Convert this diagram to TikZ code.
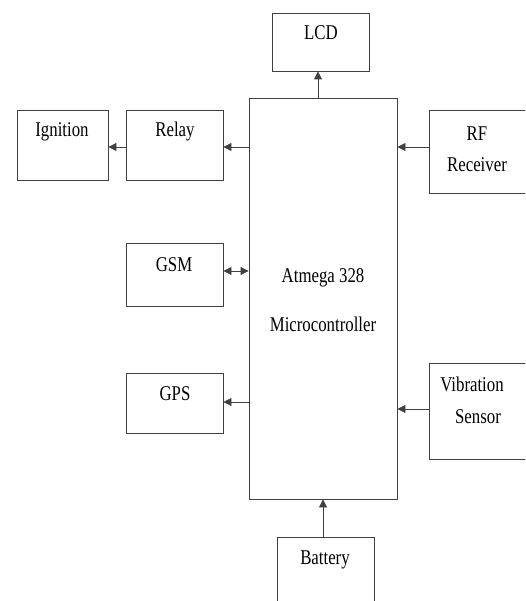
\documentclass[tikz,border=0pt]{standalone}
\usepackage{graphicx}
\usepackage{fontspec}
\setmainfont{Liberation Serif}
\usetikzlibrary{arrows.meta}
\newcommand{\txt}[1]{\scalebox{0.8}[1]{#1}}
\tikzset{
  box/.style={draw=black!75, line width=0.9pt, rectangle, inner sep=0pt},
  lbl/.style={anchor=base, inner sep=0pt, text=black, font=\fontsize{21}{24}\selectfont},
  arr/.style={draw=black!75, line width=0.9pt, -{Triangle[length=8pt,width=8pt]}},
  darr/.style={draw=black!75, line width=0.9pt, {Triangle[length=8pt,width=8pt]}-{Triangle[length=8pt,width=8pt]}}
}
\begin{document}
\begin{tikzpicture}[x=1pt,y=-1pt]
\clip (0,0) rectangle (525,601);
\fill[white] (0,0) rectangle (525,601);
% boxes
\node[box, minimum width=97pt, minimum height=58pt] (lcd) at (320.5,42) {};
\node[box, minimum width=148pt, minimum height=401pt] (mcu) at (323,298.5) {};
\node[box, minimum width=91pt, minimum height=70pt] (ign) at (62.5,145) {};
\node[box, minimum width=97pt, minimum height=70pt] (relay) at (174.5,145) {};
\node[box, minimum width=111pt, minimum height=83pt] (rf) at (484.5,151.5) {};
\node[box, minimum width=97pt, minimum height=63pt] (gsm) at (174.5,274.5) {};
\node[box, minimum width=97pt, minimum height=60pt] (gps) at (174.5,403) {};
\node[box, minimum width=111pt, minimum height=96pt] (vib) at (484.5,411) {};
\node[box, minimum width=97pt, minimum height=80pt] (bat) at (325.5,577) {};
% labels
\node[lbl] (tlcd) at (321,40) {\txt{LCD}};
\node[lbl] (tign) at (62,137) {\txt{Ignition}};
\node[lbl] (trelay) at (175,137) {\txt{Relay}};
\node[lbl] (trf1) at (477,141) {\txt{RF}};
\node[lbl] (trf2) at (477,172) {\txt{Receiver}};
\node[lbl] (tgsm) at (174,271) {\txt{GSM}};
\node[lbl] (tmcu1) at (323,282) {\txt{Atmega 328}};
\node[lbl] (tmcu2) at (323,331) {\txt{Microcontroller}};
\node[lbl] (tgps) at (175,400) {\txt{GPS}};
\node[lbl] (tvib1) at (472,391) {\txt{Vibration}};
\node[lbl] (tvib2) at (478,423) {\txt{Sensor}};
\node[lbl] (tbat) at (325,564) {\txt{Battery}};
% connectors
\draw[arr] (mcu.north -| 318,0) -- (lcd.south -| 318,0);
\draw[arr] (mcu.west |- 0,147) -- (relay.east |- 0,147);
\draw[arr] (relay.west |- 0,147) -- (ign.east |- 0,147);
\draw[arr] (rf.west |- 0,147) -- (mcu.east |- 0,147);
\draw[darr] (gsm.east |- 0,271) -- (mcu.west |- 0,271);
\draw[arr] (mcu.west |- 0,402) -- (gps.east |- 0,402);
\draw[arr] (vib.west |- 0,409) -- (mcu.east |- 0,409);
\draw[arr] (bat.north -| 323,0) -- (mcu.south -| 323,0);
\end{tikzpicture}
\end{document}
